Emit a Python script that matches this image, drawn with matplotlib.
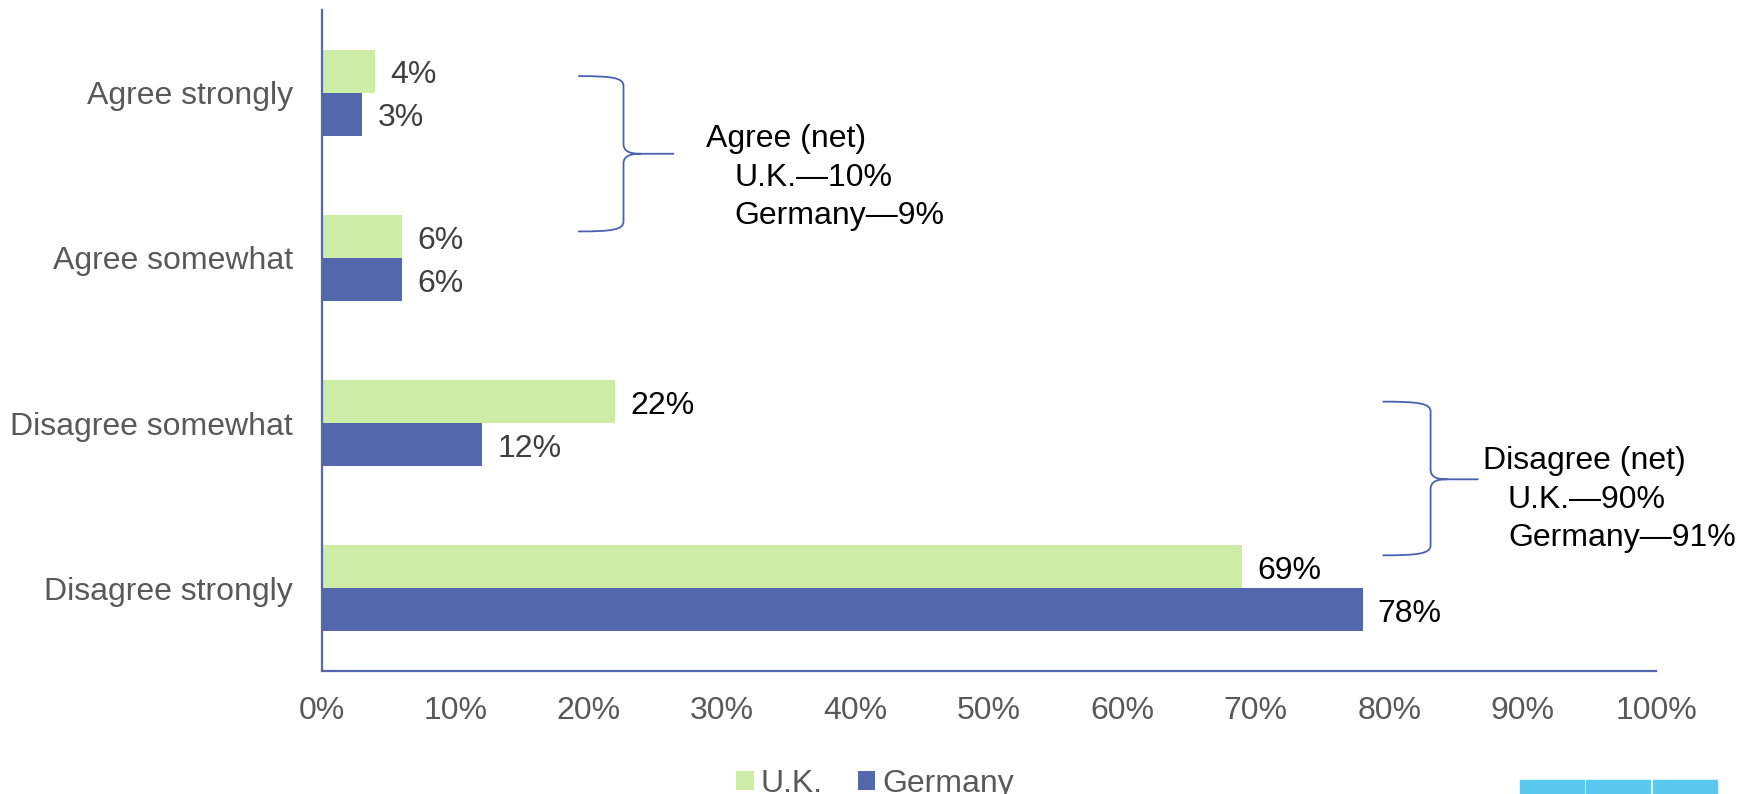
import matplotlib
matplotlib.use("Agg")
import matplotlib.pyplot as plt
from matplotlib.path import Path
from matplotlib.patches import PathPatch, Rectangle

plt.rcParams['font.family'] = ['Liberation Sans', 'DejaVu Sans']

# data
categories = ['Agree strongly', 'Agree somewhat', 'Disagree somewhat', 'Disagree strongly']
uk = [4, 6, 22, 69]
germany = [3, 6, 12, 78]
series_names = ['U.K.', 'Germany']
x_ticks = [0, 10, 20, 30, 40, 50, 60, 70, 80, 90, 100]
agree_note = ['Agree (net)', 'U.K.\u201410%', 'Germany\u20149%']
disagree_note = ['Disagree (net)', 'U.K.\u201490%', 'Germany\u201491%']

UK_COLOR = '#CDEDA7'
DE_COLOR = '#5267AC'
AXIS_COLOR = '#5468B0'
BRACE_COLOR = '#4A62B0'
GRAY = '#595959'
FS = 23


def draw_brace(ax, x0, xv, xt, y0, y1, ym, cy=0.06):
    # curly bracket opening to the left, tip pointing right
    dx = xt - xv
    verts = [
        (x0, y0), (x0 + 0.75 * (xv - x0), y0), (xv, y0 + 0.01), (xv, y0 + cy),
        (xv, ym - cy),
        (xv, ym - 0.01), (xv + 0.15 * dx, ym), (xv + 0.35 * dx, ym),
        (xt, ym),
        (xv + 0.35 * dx, ym), (xv + 0.15 * dx, ym), (xv, ym + 0.01), (xv, ym + cy),
        (xv, y1 - cy),
        (xv, y1 - 0.01), (x0 + 0.75 * (xv - x0), y1), (x0, y1),
    ]
    codes = [Path.MOVETO, Path.CURVE4, Path.CURVE4, Path.CURVE4,
             Path.LINETO,
             Path.CURVE4, Path.CURVE4, Path.CURVE4,
             Path.LINETO,
             Path.MOVETO, Path.CURVE4, Path.CURVE4, Path.CURVE4,
             Path.LINETO,
             Path.CURVE4, Path.CURVE4, Path.CURVE4]
    ax.add_patch(PathPatch(Path(verts, codes), fill=False, edgecolor=BRACE_COLOR,
                           lw=1.3, clip_on=False))


def note(ax, lines, x, x_indent, ys):
    ax.text(x, ys[0], lines[0], fontsize=FS, color='black', va='baseline')
    for txt, y in zip(lines[1:], ys[1:]):
        ax.text(x_indent, y, txt, fontsize=FS, color='black', va='baseline')


fig = plt.figure(figsize=(17.5, 7.94), dpi=100)
ax = fig.add_axes([0.184, 0.1549, 0.7623, 0.8325])

h = 0.26
ypos = list(range(len(categories)))
b_uk = ax.barh([y - h / 2 for y in ypos], uk, height=h, color=UK_COLOR, label=series_names[0])
b_de = ax.barh([y + h / 2 for y in ypos], germany, height=h, color=DE_COLOR, label=series_names[1])

lab_uk = ax.bar_label(b_uk, labels=[f'{v}%' for v in uk], padding=11, fontsize=FS)
lab_de = ax.bar_label(b_de, labels=[f'{v}%' for v in germany], padding=11, fontsize=FS)
for labs, vals in [(lab_uk, uk), (lab_de, germany)]:
    for t, v in zip(labs, vals):
        t.set_color('black' if v >= 20 else '#404040')
        t.xyann = (11, -3)

ax.set_xlim(0, 100)
ax.set_ylim(3.5, -0.5)
ax.set_xticks(x_ticks)
ax.set_xticklabels([f'{v}%' for v in x_ticks])
ax.set_yticks(ypos)
ax.set_yticklabels(categories)
ax.tick_params(axis='x', length=0, pad=18, labelsize=FS, labelcolor=GRAY)
ax.tick_params(axis='y', length=0, pad=21, labelsize=FS, labelcolor=GRAY)
for s in ['top', 'right']:
    ax.spines[s].set_visible(False)
for s in ['left', 'bottom']:
    ax.spines[s].set_color(AXIS_COLOR)
    ax.spines[s].set_linewidth(1.6)

# net brackets
draw_brace(ax, 19.2, 22.6, 26.4, -0.10, 0.84, 0.37)
note(ax, agree_note, 28.8, 30.9, [0.329, 0.567, 0.795])
draw_brace(ax, 79.5, 83.1, 86.7, 1.87, 2.80, 2.34)
note(ax, disagree_note, 87.0, 88.9, [2.278, 2.514, 2.744])

fig.legend(handles=[b_uk, b_de], labels=series_names, loc='center',
           bbox_to_anchor=(0.5, 0.0126), ncol=2, frameon=False, fontsize=FS,
           handlelength=0.55, handleheight=0.55, handletextpad=0.22,
           columnspacing=1.1, labelcolor=GRAY)

# decorative strip bottom right
for x0 in [1520, 1586, 1653]:
    fig.patches.append(Rectangle((x0 / 1750, 0), 64 / 1750, 14 / 794,
                                 transform=fig.transFigure, color='#5BC8F0'))

fig.savefig('out.png', dpi=100)
